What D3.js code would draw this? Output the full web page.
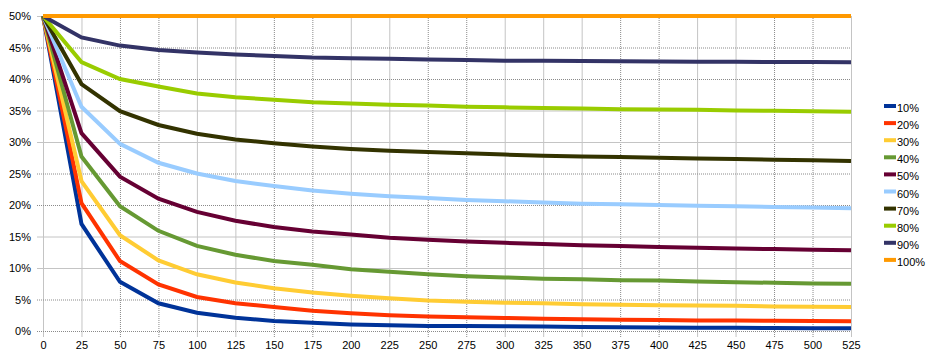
<!DOCTYPE html>
<html>
<head>
<meta charset="utf-8">
<script src="https://cdn.jsdelivr.net/npm/d3@7"></script>
<style>
  html, body { margin: 0; padding: 0; background: #fff; }
  svg { display: block; font-family: "Liberation Sans", Arial, sans-serif; }
</style>
</head>
<body>
<svg id="chart" width="945" height="361"></svg>
<script>
// ---- data ----
const xValues = [0, 25, 50, 75, 100, 125, 150, 175, 200, 225, 250, 275, 300, 325, 350, 375, 400, 425, 450, 475, 500, 525];
const seriesNames = ["10%", "20%", "30%", "40%", "50%", "60%", "70%", "80%", "90%", "100%"];
const s10  = [50, 17.0, 7.8, 4.4, 2.9, 2.1, 1.6, 1.3, 1.05, 0.9, 0.8, 0.78, 0.75, 0.72, 0.65, 0.6, 0.55, 0.52, 0.5, 0.47, 0.45, 0.43];
const s20  = [50, 20.3, 11.1, 7.4, 5.4, 4.4, 3.8, 3.2, 2.8, 2.5, 2.3, 2.2, 2.06, 1.95, 1.85, 1.8, 1.75, 1.68, 1.65, 1.62, 1.57, 1.54];
const s30  = [50, 23.8, 15.2, 11.2, 9.0, 7.7, 6.8, 6.1, 5.6, 5.2, 4.85, 4.65, 4.5, 4.4, 4.25, 4.15, 4.1, 4.05, 4.0, 3.9, 3.85, 3.8];
const s40  = [50, 27.7, 19.8, 15.9, 13.5, 12.1, 11.1, 10.5, 9.8, 9.4, 9.0, 8.7, 8.5, 8.3, 8.2, 8.05, 8.0, 7.85, 7.75, 7.65, 7.55, 7.5];
const s50  = [50, 31.4, 24.5, 21.0, 18.9, 17.5, 16.5, 15.8, 15.3, 14.8, 14.5, 14.2, 14.0, 13.8, 13.6, 13.5, 13.35, 13.2, 13.1, 13.0, 12.9, 12.8];
const s60  = [50, 35.6, 29.7, 26.7, 25.0, 23.8, 23.0, 22.3, 21.8, 21.4, 21.1, 20.8, 20.6, 20.4, 20.2, 20.1, 20.0, 19.9, 19.8, 19.7, 19.6, 19.5];
const s70  = [50, 39.2, 34.9, 32.7, 31.3, 30.4, 29.8, 29.3, 28.9, 28.6, 28.4, 28.2, 28.0, 27.8, 27.7, 27.6, 27.5, 27.4, 27.3, 27.2, 27.1, 27.0];
const s80  = [50, 42.7, 40.0, 38.8, 37.7, 37.1, 36.7, 36.3, 36.1, 35.9, 35.8, 35.6, 35.5, 35.4, 35.3, 35.2, 35.15, 35.1, 35.0, 34.95, 34.9, 34.8];
const s90  = [50, 46.6, 45.3, 44.6, 44.2, 43.9, 43.65, 43.4, 43.3, 43.2, 43.1, 43.0, 42.9, 42.88, 42.85, 42.8, 42.78, 42.75, 42.72, 42.7, 42.68, 42.65];
const s100 = [50, 50, 50, 50, 50, 50, 50, 50, 50, 50, 50, 50, 50, 50, 50, 50, 50, 50, 50, 50, 50, 50];
const seriesValues = [s10, s20, s30, s40, s50, s60, s70, s80, s90, s100];
const yTicks = [0, 5, 10, 15, 20, 25, 30, 35, 40, 45, 50];
const xTicks = xValues;
const colors = ["#003399", "#ff3300", "#ffcc33", "#669933", "#660033", "#99ccff", "#333300", "#99cc00", "#333366", "#ff9900"];

// ---- layout ----
const svg = d3.select("#chart");
const x = d3.scaleLinear().domain([0, 525]).range([43, 851]);
const y = d3.scaleLinear().domain([0, 50]).range([331, 16]);

// gridline style pattern (solid / dotted), mimicking the reference
const xSolid = new Set([0, 25, 100, 125, 200, 225, 300, 325, 350, 425, 450, 525]);
const ySolid = new Set([10, 15, 30, 35, 50]);

const grid = svg.append("g");
grid.selectAll("line.v").data(xTicks).join("line")
  .attr("x1", d => x(d) + 0.5).attr("x2", d => x(d) + 0.5)
  .attr("y1", y(50)).attr("y2", y(0) + 6)
  .attr("stroke", d => xSolid.has(d) ? "#c4c4c4" : "#8a8a8a")
  .attr("stroke-dasharray", d => xSolid.has(d) ? null : "1,1");
grid.selectAll("line.h").data(yTicks).join("line")
  .attr("x1", x(0) - 6).attr("x2", x(525))
  .attr("y1", d => y(d) + 0.5).attr("y2", d => y(d) + 0.5)
  .attr("stroke", d => ySolid.has(d) ? "#c4c4c4" : "#8a8a8a")
  .attr("stroke-dasharray", d => ySolid.has(d) ? null : "1,1");

// axes labels
const xAxis = d3.axisBottom(x).tickValues(xTicks).tickSize(0).tickPadding(0).tickFormat(d3.format("d"));
const gx = svg.append("g").attr("transform", `translate(0,${y(0) + 10})`).call(xAxis);
gx.select(".domain").remove();
gx.selectAll("text").attr("font-size", 11).attr("font-family", "Liberation Sans, Arial, sans-serif").attr("fill", "#000").attr("dy", "0.71em");

const yAxis = d3.axisLeft(y).tickValues(yTicks).tickSize(0).tickPadding(0).tickFormat(d => d + "%");
const gy = svg.append("g").attr("transform", `translate(31,0)`).call(yAxis);
gy.select(".domain").remove();
gy.selectAll("text").attr("font-size", 11).attr("font-family", "Liberation Sans, Arial, sans-serif").attr("fill", "#000").attr("dy", "0.36em");

// lines
const line = d3.line().x((d, i) => x(xValues[i])).y(d => y(d));
svg.append("g").selectAll("path").data(seriesValues).join("path")
  .attr("d", d => line(d))
  .attr("fill", "none")
  .attr("stroke", (d, i) => colors[i])
  .attr("stroke-width", 4)
  .attr("stroke-linejoin", "miter");

// legend
const legend = svg.append("g");
const lg = legend.selectAll("g").data(seriesNames).join("g")
  .attr("transform", (d, i) => `translate(884,${104 + i * 17.1})`);
lg.append("rect").attr("x", 0).attr("y", 0).attr("width", 12).attr("height", 4)
  .attr("fill", (d, i) => colors[i]);
lg.append("text").attr("x", 13).attr("y", 8).attr("font-size", 11)
  .attr("font-family", "Liberation Sans, Arial, sans-serif").attr("fill", "#000").text(d => d);
</script>
</body>
</html>
